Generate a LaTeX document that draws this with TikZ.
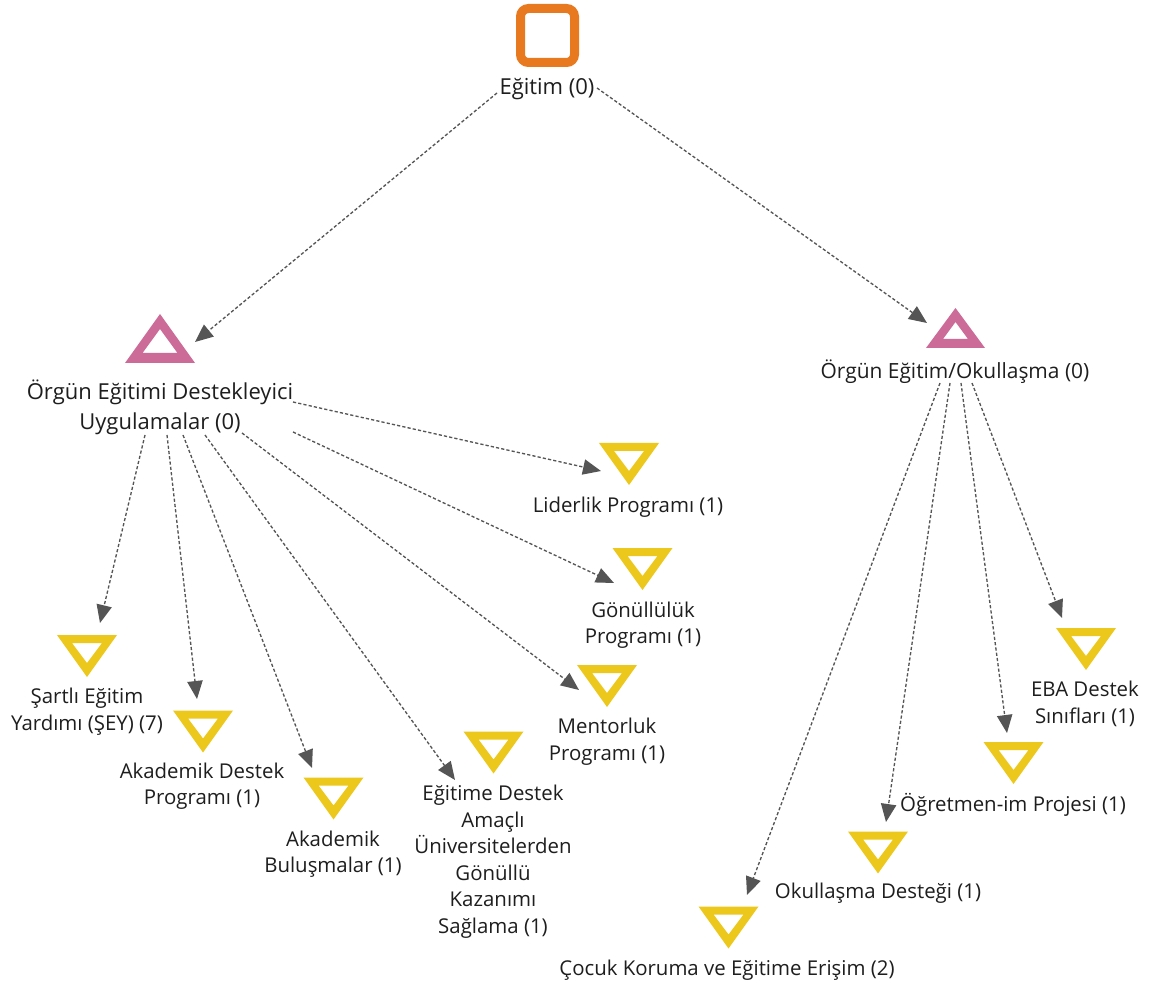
\documentclass[tikz,border=0pt]{standalone}
\usepackage{fontspec}
\setmainfont{Open Sans}
\usetikzlibrary{arrows.meta}
\definecolor{ycol}{HTML}{EDC81C}
\definecolor{pcol}{HTML}{CC6A98}
\definecolor{ocol}{HTML}{E8791E}
\definecolor{agray}{HTML}{555555}
\definecolor{txt}{HTML}{1E1E1E}
\tikzset{
  lab/.style={align=center, inner sep=0pt, text=txt, font=\fontsize{15.3}{19.9}\selectfont},
  biglab/.style={align=center, inner sep=0pt, text=txt, font=\fontsize{16.5}{22.5}\selectfont},
  icon/.style={inner sep=0pt, minimum width=45pt, minimum height=31.5pt},
  arr/.style={draw=agray, line width=1pt, dash pattern=on 2.4pt off 1.6pt,
    -{Triangle[length=13.5pt,width=11.5pt]}},
}
\newcommand\ytri[1]{\fill[ycol,even odd rule]
  ([shift={(-30,-21)}]#1.center) -- ([shift={(30,-21)}]#1.center) -- ([shift={(0,21)}]#1.center) -- cycle
  ([shift={(-15,-13)}]#1.center) -- ([shift={(15,-13)}]#1.center) -- ([shift={(0,7)}]#1.center) -- cycle;}
\newcommand\ptri[6]{\fill[pcol,even odd rule]
  ([shift={(-#2,#3)}]#1.center) -- ([shift={(#2,#3)}]#1.center) -- ([shift={(0,-#3)}]#1.center) -- cycle
  ([shift={(-#4,#6)}]#1.center) -- ([shift={(#4,#6)}]#1.center) -- ([shift={(0,-#5)}]#1.center) -- cycle;}
\begin{document}
\begin{tikzpicture}[x=0.75pt,y=-0.75pt]
\useasboundingbox[fill=white] (0,0) rectangle (1150,987);
% root
\node[draw=ocol, line width=6.75pt, rounded corners=6pt, minimum size=40.5pt, inner sep=0pt] (root) at (547.5,35.5) {};
\node[biglab] (rootlab) at (547,89) {Eğitim (0)};
% pink level
\node[inner sep=0pt, minimum width=52.5pt, minimum height=36.75pt] (lp) at (160,338.5) {};
\ptri{lp}{35}{24.5}{17.5}{9.5}{14.5}
\node[biglab] (llab) at (160,407) {Örgün Eğitimi Destekleyici\\Uygulamalar (0)};
\node[inner sep=0pt, minimum width=44pt, minimum height=30pt] (rp) at (955.5,328) {};
\ptri{rp}{29.5}{20}{12.5}{6}{11}
\node[biglab, font=\fontsize{15.7}{21}\selectfont] (rlab) at (955,372) {Örgün Eğitim/Okullaşma (0)};
% leaves
\node[icon] (s1) at (87,656) {};      \ytri{s1}
\node[lab] (s1l) at (87,711.5) {Şartlı Eğitim\\Yardımı (ŞEY) (7)};
\node[icon] (s2) at (203,731.5) {};   \ytri{s2}
\node[lab] (s2l) at (202,786) {Akademik Destek\\Programı (1)};
\node[icon] (s3) at (333.5,798.5) {}; \ytri{s3}
\node[lab] (s3l) at (333,854) {Akademik\\Buluşmalar (1)};
\node[icon] (s4) at (493.5,752.5) {}; \ytri{s4}
\node[lab] (s4l) at (493,861.5) {Eğitime Destek\\Amaçlı\\Üniversitelerden\\Gönüllü\\Kazanımı\\Sağlama (1)};
\node[icon] (s5) at (607,686) {};     \ytri{s5}
\node[lab] (s5l) at (607,741.5) {Mentorluk\\Programı (1)};
\node[icon] (s6) at (642.5,569) {};   \ytri{s6}
\node[lab] (s6l) at (643,625) {Gönüllülük\\Programı (1)};
\node[icon] (s7) at (629,464) {};     \ytri{s7}
\node[lab] (s7l) at (628,507) {Liderlik Programı (1)};
\node[icon] (r1) at (1086,649) {};    \ytri{r1}
\node[lab] (r1l) at (1085,704) {EBA Destek\\Sınıfları (1)};
\node[icon] (r2) at (1013.5,763) {};  \ytri{r2}
\node[lab] (r2l) at (1013,805) {Öğretmen-im Projesi (1)};
\node[icon] (r3) at (878,852.5) {};   \ytri{r3}
\node[lab] (r3l) at (878,893) {Okullaşma Desteği (1)};
\node[icon] (r4) at (728.5,927.5) {}; \ytri{r4}
\node[lab] (r4l) at (727,970) {Çocuk Koruma ve Eğitime Erişim (2)};
% connectors
\draw[arr] ([shift={(-50,4)}]rootlab.center) -- ([shift={(35,3.5)}]lp.center);
\draw[arr] ([shift={(50,-1)}]rootlab.center) -- ([shift={(-28.5,-5)}]rp.center);
\draw[arr] ([shift={(133,-5)}]llab.center) -- ([shift={(-28,7)}]s7.center);
\draw[arr] ([shift={(133,25)}]llab.center) -- ([shift={(-28.5,14)}]s6.center);
\draw[arr] ([shift={(82,26)}]llab.center) -- ([shift={(-28,4)}]s5.center);
\draw[arr] ([shift={(45,28)}]llab.center) -- ([shift={(-38.5,27.5)}]s4.center);
\draw[arr] ([shift={(23,28)}]llab.center) -- ([shift={(-21.5,-30.5)}]s3.center);
\draw[arr] ([shift={(7,28)}]llab.center) -- ([shift={(-6,-32.5)}]s2.center);
\draw[arr] ([shift={(-15,28)}]llab.center) -- ([shift={(13,-33)}]s1.center);
\draw[arr] ([shift={(-15,11)}]rlab.center) -- ([shift={(18.5,-32.5)}]r4.center);
\draw[arr] ([shift={(-5,11)}]rlab.center) -- ([shift={(8,-30.5)}]r3.center);
\draw[arr] ([shift={(6,11)}]rlab.center) -- ([shift={(-6.5,-30)}]r2.center);
\draw[arr] ([shift={(17,11)}]rlab.center) -- ([shift={(-24,-31)}]r1.center);
\end{tikzpicture}
\end{document}
